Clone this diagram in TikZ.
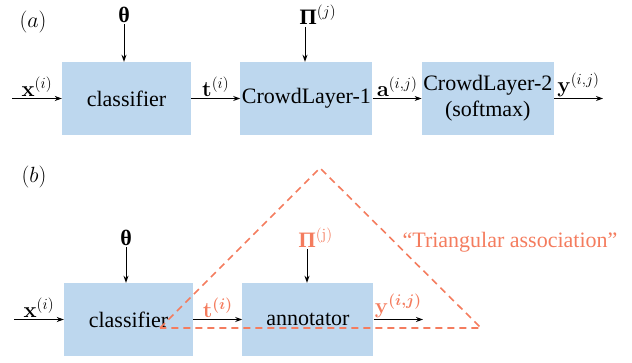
\RequirePackage{fix-cm}
\documentclass[tikz,border=0pt]{standalone}
\usepackage{amsmath,amssymb}
\usepackage[no-math]{fontspec}
\setmainfont{Liberation Serif}
\usepackage{xcolor}
\usetikzlibrary{arrows.meta, positioning, calc}
\definecolor{boxblue}{RGB}{189,215,238}
\definecolor{salmon}{RGB}{244,124,94}
\tikzset{
  block/.style = {rectangle, fill=boxblue, minimum width=129pt,
                  minimum height=73pt, align=center, inner sep=1pt,
                  font=\rmfamily\fontsize{22}{26}\selectfont},
  flow/.style  = {-{Stealth[length=7pt,width=5pt]}, line width=0.9pt},
  lab/.style   = {font=\rmfamily\fontsize{22}{24}\selectfont, inner sep=1.5pt},
  tri/.style   = {salmon, dash pattern=on 7pt off 5pt, line width=1.6pt},
}

\begin{document}
\begin{tikzpicture}[x=1pt, y=-1pt]
  \useasboundingbox (0,0) rectangle (632,363);

  % (a) crowd layer
  \node[lab] (taga) at (33,22) {$(a)$};
  \node[block] (clsa) at (126.5,98.5) {classifier};
  \node[block, right=49pt of clsa, minimum width=132pt] (crowda) {CrowdLayer-1};
  \node[block, right=49pt of crowda, minimum width=132pt] (crowdb) {CrowdLayer-2\\(softmax)};
  \coordinate (xina) at (12,98.5);
  \coordinate (youta) at (603,98.5);
  \node[lab] (tha) at (124,15) {\textbf{θ}};
  \node[lab, anchor=west] (pia) at (298,15) {\textbf{Π}$^{(j)}$};
  \coordinate (pitopa) at (305,27);

  \draw[flow] (tha) -- (tha |- clsa.north);
  \draw[flow] (pitopa) -- (pitopa |- crowda.north);
  \draw[flow] (xina) -- node[lab, above] {$\mathbf{x}^{(i)}$} (clsa);
  \draw[flow] (clsa) -- node[lab, above] {$\mathbf{t}^{(i)}$} (crowda);
  \draw[flow] (crowda) -- node[lab, above] {$\mathbf{a}^{(i,j)}$} (crowdb);
  \draw[flow] (crowdb) -- node[lab, above] {$\mathbf{y}^{(i,j)}$} (youta);

  % (b) triangular association
  \node[lab] (tagb) at (34,177) {$(b)$};
  \node[block] (clsb) at (128.5,319.5) {classifier};
  \node[block, right=49pt of clsb, minimum width=131pt] (annb) {annotator};
  \coordinate (xinb) at (14,319.5);
  \coordinate (youtb) at (423,319.5);
  \node[lab] (thb) at (126,238) {\textbf{θ}};
  \node[lab, anchor=west, salmon] (pib) at (297,238) {\textbf{Π}$^{(\mathrm{j})}$};
  \coordinate (pitopb) at (307,249);

  \draw[flow] (thb) -- (thb |- clsb.north);
  \draw[flow] (pitopb) -- (pitopb |- annb.north);
  \draw[flow] (xinb) -- node[lab, above] {$\mathbf{x}^{(i)}$} (clsb);
  \draw[flow] (clsb) -- node[lab, above, salmon] {$\mathbf{t}^{\boldsymbol{(i)}}$} (annb);
  \draw[flow] (annb) -- node[lab, above, salmon] {$\mathbf{y}^{\boldsymbol{(i,j)}}$} (youtb);

  \coordinate (apex) at (320,168);
  \coordinate (leftc) at (160,328);
  \coordinate (rightc) at (481,328);
  \draw[tri] (leftc) -- (apex) -- (rightc) -- cycle;
  \node[lab, salmon] (assoc) at (510,242) {``Triangular association''};
\end{tikzpicture}
\end{document}
